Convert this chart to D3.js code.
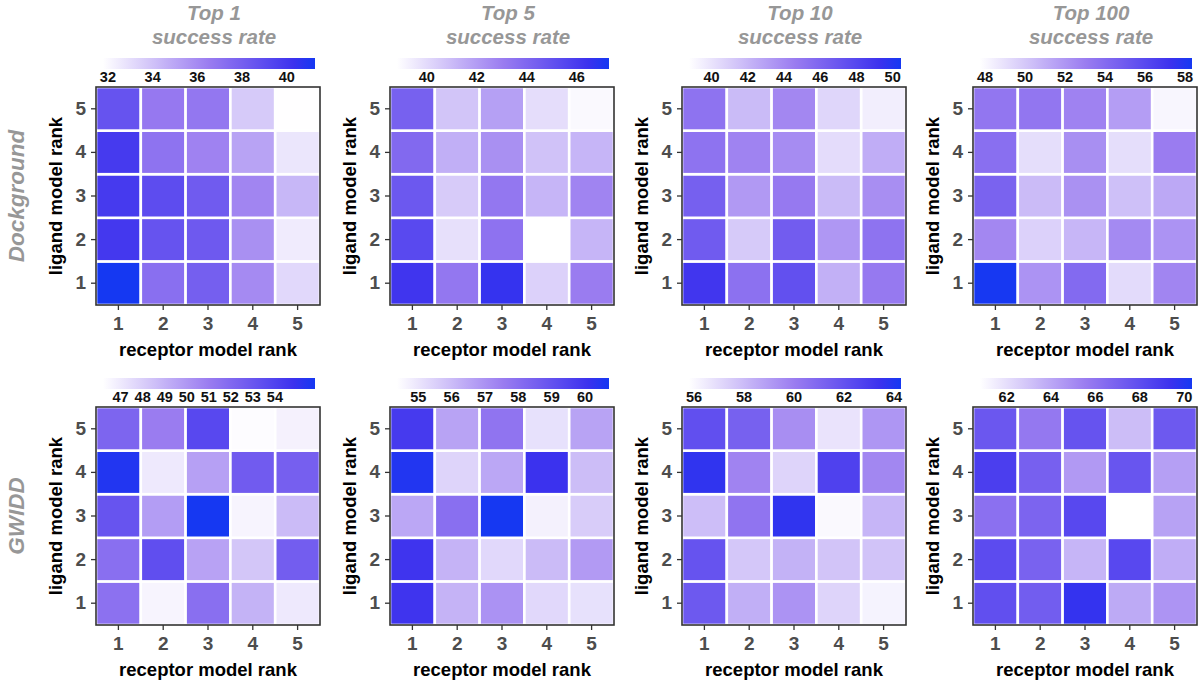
<!DOCTYPE html>
<html>
<head>
<meta charset="utf-8">
<script src="https://cdn.jsdelivr.net/npm/d3@7"></script>
<style>
  html, body { margin: 0; padding: 0; background: #ffffff; }
  svg { display: block; font-family: "Liberation Sans", Arial, sans-serif; }
</style>
</head>
<body>
<svg id="chart" width="1200" height="681"></svg>
<script>
// ---------------- DATA ----------------
const receptorRanks = [1, 2, 3, 4, 5];
const ligandRanks = [1, 2, 3, 4, 5];
const rowLabels = ["Dockground", "GWIDD"];
const colTitles = ["Top 1", "Top 5", "Top 10", "Top 100"];
const subTitle = "success rate";
const xAxisTitle = "receptor model rank";
const yAxisTitle = "ligand model rank";

// rows = ligand model rank 1..5, columns = receptor model rank 1..5
const dockTop1 = [
  [41.26, 37.2, 38.0, 36.0, 33.2],
  [40.0, 38.6, 38.3, 35.8, 32.5],
  [39.9, 39.0, 38.2, 36.2, 34.4],
  [39.9, 37.0, 36.3, 35.1, 32.7],
  [38.6, 36.7, 36.8, 33.7, 31.8]
];
const dockTop5 = [
  [46.3, 43.3, 46.6, 40.3, 43.05],
  [45.4, 39.8, 43.5, 38.8, 41.2],
  [44.7, 40.5, 43.3, 41.2, 42.8],
  [43.9, 41.4, 42.4, 40.8, 41.2],
  [44.3, 40.7, 41.9, 39.9, 39.0]
];
const dockTop10 = [
  [49.05, 45.3, 47.4, 42.3, 44.8],
  [46.7, 41.1, 46.6, 43.4, 45.2],
  [46.4, 43.3, 44.8, 41.8, 43.8],
  [45.2, 44.3, 43.9, 40.3, 42.4],
  [45.2, 41.8, 44.1, 40.6, 39.5]
];
const dockTop100 = [
  [58.3, 52.1, 54.1, 49.2, 52.7],
  [52.6, 49.6, 50.7, 52.5, 52.1],
  [54.5, 50.5, 52.2, 50.3, 51.25],
  [53.8, 49.1, 52.3, 49.1, 53.05],
  [53.4, 53.4, 52.8, 51.7, 48.1]
];
const gwiddTop1 = [
  [51.6, 46.6, 51.7, 49.0, 47.0],
  [51.7, 53.4, 49.6, 48.3, 52.6],
  [53.1, 49.8, 55.8, 46.6, 48.7],
  [55.5, 47.0, 49.7, 52.7, 52.5],
  [52.2, 51.0, 53.7, 46.3, 46.7]
];
const gwiddTop5 = [
  [60.0, 56.2, 57.0, 55.3, 55.1],
  [60.0, 56.2, 55.3, 56.0, 56.8],
  [56.5, 58.0, 60.7, 54.7, 55.6],
  [60.5, 55.4, 56.5, 60.1, 55.95],
  [59.8, 56.6, 57.8, 55.1, 56.6]
];
const gwiddTop10 = [
  [61.65, 58.4, 59.3, 57.2, 56.2],
  [61.9, 57.6, 58.3, 57.7, 57.75],
  [57.9, 60.4, 63.7, 56.0, 58.2],
  [63.7, 59.8, 57.2, 62.75, 59.7],
  [62.1, 61.3, 59.45, 56.7, 59.2]
];
const gwiddTop100 = [
  [67.9, 67.2, 69.6, 63.9, 64.7],
  [68.1, 66.9, 63.5, 68.25, 63.8],
  [66.2, 66.8, 68.25, 60.8, 64.2],
  [68.8, 67.0, 64.5, 67.6, 64.3],
  [67.5, 65.8, 67.7, 63.2, 67.4]
];

// colour-bar limits
const dockLimits = [[31.78, 41.26], [38.81, 47.29], [38.75, 50.46], [47.75, 58.35]];
const gwiddLimits = [[46.2, 55.82], [54.36, 60.72], [55.8, 64.28], [60.8, 70.35]];

// colour-bar tick labels
const dockTicks = [[32, 34, 36, 38, 40], [40, 42, 44, 46], [40, 42, 44, 46, 48, 50], [48, 50, 52, 54, 56, 58]];
const gwiddTicks = [[47, 48, 49, 50, 51, 52, 53, 54], [55, 56, 57, 58, 59, 60], [56, 58, 60, 62, 64], [62, 64, 66, 68, 70]];

const panelData = [
  [dockTop1, dockTop5, dockTop10, dockTop100],
  [gwiddTop1, gwiddTop5, gwiddTop10, gwiddTop100]
];
const panelLimits = [dockLimits, gwiddLimits];
const panelTicks = [dockTicks, gwiddTicks];

// ---------------- LAYOUT ----------------
const svg = d3.select("#chart");
const lefts = [96, 390, 682, 973];
const tops = [87, 407];
const pw = 224, ph = 218;

const tNorm = d3.scaleLinear().domain([0, 0.5, 0.9, 1])
  .range(["#ffffff", "#9a7cf0", "#3c32ee", "#1538f2"]).clamp(true);

const defs = svg.append("defs");
const gradStops = d3.range(0, 1.0001, 0.05);
const grad = defs.append("linearGradient").attr("id", "cbgrad")
  .attr("x1", "0%").attr("x2", "100%").attr("y1", "0%").attr("y2", "0%");
grad.selectAll("stop").data(gradStops).join("stop")
  .attr("offset", d => (d * 100) + "%")
  .attr("stop-color", d => tNorm(d));

const tickColor = "#4d4d4d";
const titleGray = "#979797";

// column titles
colTitles.forEach((t, c) => {
  const cx = lefts[c] + pw / 2 + 6;
  const g = svg.append("g");
  g.append("text").attr("x", cx).attr("y", 20).attr("text-anchor", "middle")
    .attr("font-size", 20.5).attr("font-weight", "bold").attr("font-style", "italic")
    .attr("fill", titleGray).text(t);
  g.append("text").attr("x", cx).attr("y", 44).attr("text-anchor", "middle")
    .attr("font-size", 20.5).attr("font-weight", "bold").attr("font-style", "italic")
    .attr("fill", titleGray).text(subTitle);
});

// row labels
rowLabels.forEach((lab, r) => {
  const cy = tops[r] + ph / 2;
  svg.append("text")
    .attr("transform", `translate(24,${cy}) rotate(-90)`)
    .attr("text-anchor", "middle")
    .attr("font-size", 22.5).attr("font-weight", "bold").attr("font-style", "italic")
    .attr("fill", titleGray).text(lab);
});

panelData.forEach((rowPanels, r) => {
  rowPanels.forEach((mat, c) => {
    const L = lefts[c], T = tops[r];
    const lim = panelLimits[r][c];
    const norm = d3.scaleLinear().domain(lim).range([0, 1]);
    const color = v => tNorm(norm(v));

    const x = d3.scaleBand().domain(receptorRanks).range([L, L + pw]).padding(0);
    const y = d3.scaleBand().domain(ligandRanks.slice().reverse()).range([T, T + ph]).padding(0);

    const g = svg.append("g");

    // tiles
    const cells = [];
    mat.forEach((row, i) => row.forEach((v, j) => cells.push({ lig: ligandRanks[i], rec: receptorRanks[j], v })));
    g.selectAll("rect.tile").data(cells).join("rect")
      .attr("class", "tile")
      .attr("x", d => x(d.rec)).attr("y", d => y(d.lig))
      .attr("width", x.bandwidth()).attr("height", y.bandwidth())
      .attr("fill", d => color(d.v))
      .attr("stroke", "#ffffff").attr("stroke-width", 2.6);

    // frame
    g.append("rect").attr("x", L).attr("y", T).attr("width", pw).attr("height", ph)
      .attr("fill", "none").attr("stroke", "#333333").attr("stroke-width", 1.6);

    // axes
    const xa = g.append("g").attr("transform", `translate(0,${T + ph})`)
      .call(d3.axisBottom(x).tickSize(5).tickPadding(7));
    const ya = g.append("g").attr("transform", `translate(${L},0)`)
      .call(d3.axisLeft(y).tickSize(5).tickPadding(5));
    [xa, ya].forEach(a => {
      a.select(".domain").remove();
      a.selectAll(".tick line").attr("stroke", "#333333").attr("stroke-width", 1.3);
      a.selectAll(".tick text").attr("fill", tickColor).attr("font-size", 19)
        .attr("font-weight", "bold").attr("font-family", "Liberation Sans, Arial, sans-serif");
    });

    // axis titles
    g.append("text").attr("x", L + pw / 2).attr("y", T + ph + 51)
      .attr("text-anchor", "middle").attr("font-size", 18.5).attr("font-weight", "bold")
      .attr("fill", "#000").text(xAxisTitle);
    g.append("text")
      .attr("transform", `translate(${L - 34},${T + ph / 2}) rotate(-90)`)
      .attr("text-anchor", "middle").attr("font-size", 18.5).attr("font-weight", "bold")
      .attr("fill", "#000").text(yAxisTitle);

    // colour bar
    const cb = d3.scaleLinear().domain(lim).range([L + 7, L + pw - 5]);
    g.append("rect").attr("x", cb.range()[0]).attr("y", T - 29)
      .attr("width", cb.range()[1] - cb.range()[0]).attr("height", 11)
      .attr("fill", "url(#cbgrad)");
    g.selectAll("text.cbt").data(panelTicks[r][c]).join("text")
      .attr("class", "cbt")
      .attr("x", d => cb(d)).attr("y", T - 5)
      .attr("text-anchor", "middle").attr("font-size", 14.5).attr("font-weight", "bold")
      .attr("fill", "#111").text(d => d);
  });
});
</script>
</body>
</html>
